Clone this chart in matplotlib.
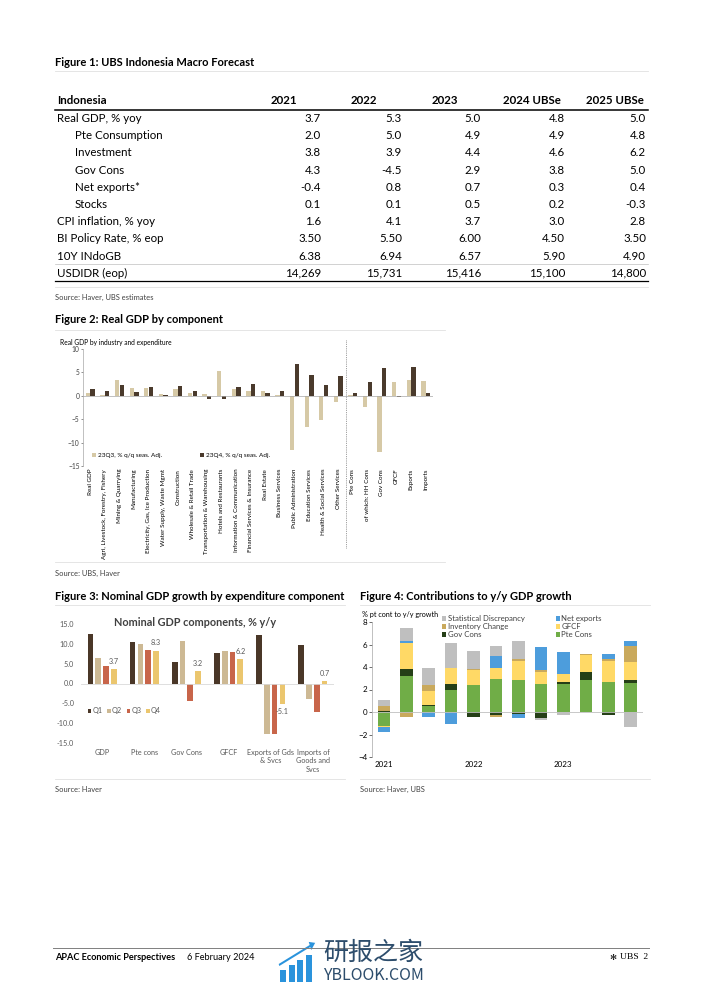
import numpy as np
import matplotlib.pyplot as plt
from matplotlib.lines import Line2D
from matplotlib.patches import Rectangle, FancyArrow

# ---- data ----
# Figure 1 table
tbl_rows = ['Real GDP, % yoy', 'Pte Consumption', 'Investment', 'Gov Cons', 'Net exports*',
            'Stocks', 'CPI inflation, % yoy', 'BI Policy Rate, % eop', '10Y INdoGB', 'USDIDR (eop)']
tbl_indent = [0, 1, 1, 1, 1, 1, 0, 0, 0, 0]
tbl_years = ['2021', '2022', '2023', '2024 UBSe', '2025 UBSe']
y2021 = ['3.7', '2.0', '3.8', '4.3', '-0.4', '0.1', '1.6', '3.50', '6.38', '14,269']
y2022 = ['5.3', '5.0', '3.9', '-4.5', '0.8', '0.1', '4.1', '5.50', '6.94', '15,731']
y2023 = ['5.0', '4.9', '4.4', '2.9', '0.7', '0.5', '3.7', '6.00', '6.57', '15,416']
y2024 = ['4.8', '4.9', '4.6', '3.8', '0.3', '0.2', '3.0', '4.50', '5.90', '15,100']
y2025 = ['5.0', '4.8', '6.2', '5.0', '0.4', '-0.3', '2.8', '3.50', '4.90', '14,800']

# Figure 2
sectors = ['Real GDP', 'Agri, Livestock, Forestry, Fishery', 'Mining & Quarrying', 'Manufacturing',
           'Electricity, Gas, Ice Production', 'Water Supply, Waste Mgmt', 'Construction',
           'Wholesale & Retail Trade', 'Transportation & Warehousing', 'Hotels and Restaurants',
           'Information & Communication', 'Financial Services & Insurance', 'Real Estate',
           'Business Services', 'Public Administration', 'Education Services',
           'Health & Social Services', 'Other Services', 'Pte Cons', 'of which: HH Cons',
           'Gov Cons', 'GFCF', 'Exports', 'Imports']
q3_23 = [0.7, 0.15, 3.4, 1.6, 1.6, 0.3, 1.4, 0.7, 0.3, 5.3, 1.4, 1.0,
         1.1, 0.1, -11.6, -6.6, -5.2, -1.3, 0.1, -2.4, -12.1, 3.0, 3.3, 3.1]
q4_23 = [1.4, 1.1, 2.4, 0.9, 1.9, 0.1, 2.1, 1.1, -0.6, -0.7, 1.9, 2.5,
         0.5, 1.0, 6.8, 4.4, 2.4, 4.3, 0.5, 2.9, 5.9, -0.2, 6.2, 0.6]

# Figure 3
comps = ['GDP', 'Pte cons', 'Gov Cons', 'GFCF', 'Exports of Gds\n& Svcs', 'Imports of\nGoods and\nSvcs']
nq1 = [12.4, 10.5, 5.4, 7.6, 12.2, 9.7]
nq2 = [6.5, 10.0, 10.8, 8.1, -12.8, -3.8]
nq3 = [4.3, 8.5, -4.3, 8.0, -12.8, -7.1]
nq4 = [3.7, 8.3, 3.2, 6.2, -5.1, 0.7]

# Figure 4 (2021Q1 - 2023Q4)
quarters = ['2021', '', '', '', '2022', '', '', '', '2023', '', '', '']
pte = [-1.2, 3.2, 0.55, 1.95, 2.4, 2.95, 2.85, 2.45, 2.5, 2.85, 2.65, 2.6]
gov = [0.1, 0.65, 0.1, 0.55, -0.4, -0.3, -0.2, -0.5, 0.15, 0.7, -0.3, 0.25]
gfcf = [-0.1, 2.3, 1.2, 1.45, 1.35, 0.95, 1.65, 1.1, 0.75, 1.5, 1.85, 1.6]
inv = [0.4, -0.4, 0.55, 0.0, 0.1, -0.1, 0.2, 0.15, 0.0, 0.15, 0.2, 1.4]
netex = [-0.45, 0.15, -0.45, -1.05, 0.0, 1.1, -0.35, 2.1, 1.9, 0.0, 0.5, 0.45]
stat = [0.55, 1.15, 1.5, 2.15, 1.6, 0.9, 1.6, -0.25, -0.25, 0.0, 0.0, -1.3]

# ---- page ----
W, H = 702, 992
plt.rcParams['font.family'] = ['Lato', 'DejaVu Sans']
fig = plt.figure(figsize=(7.02, 9.92), dpi=100)


def box(x0, y0, x1, y1):
    return fig.add_axes([x0 / W, 1 - y1 / H, (x1 - x0) / W, (y1 - y0) / H])


def txt(x, y, s, **kw):
    kw.setdefault('va', 'center')
    fig.text(x / W, 1 - y / H, s, **kw)


def hline(y, x0, x1, c='#e0e0e0', lw=0.6):
    fig.add_artist(Line2D([x0 / W, x1 / W], [1 - y / H, 1 - y / H], color=c, lw=lw))


# Figure 1 table
txt(55, 62, 'Figure 1: UBS Indonesia Macro Forecast', fontsize=8, fontweight='bold')
hline(71, 55, 648)
txt(57, 101, 'Indonesia', fontsize=8.3, fontweight='bold')
head_x = [297, 377, 458, 561, 644]
val_x = [321, 402, 481, 565, 646]
for hx, yr in zip(head_x, tbl_years):
    txt(hx, 101, yr, fontsize=8.3, fontweight='bold', ha='right')
hline(109.5, 55, 648, c='black', lw=1.1)
cols = [y2021, y2022, y2023, y2024, y2025]
for i, name in enumerate(tbl_rows):
    ry = 118.5 + i * 17.2
    txt(57 + 18 * tbl_indent[i], ry, name, fontsize=8.3)
    for vx, col in zip(val_x, cols):
        txt(vx, ry, col[i], fontsize=8.3, ha='right')
hline(264, 55, 648, c='#bfbfbf', lw=0.5)
hline(281, 55, 648, c='black', lw=0.9)
hline(287, 55, 648)
txt(55, 297, 'Source: Haver, UBS estimates', fontsize=5.4, color='#404040')

# Figure 2
txt(55, 320, 'Figure 2: Real GDP by component', fontsize=8, fontweight='bold')
hline(330, 55, 445)
txt(60, 342, 'Real GDP by industry and expenditure', fontsize=4.8)
ax2 = box(83, 349, 433, 466)
ix = np.arange(len(sectors))
ax2.bar(ix - 0.16, q3_23, 0.3, color='#d6c9a6', label='23Q3, % q/q seas. Adj.')
ax2.bar(ix + 0.16, q4_23, 0.3, color='#4a3a2c', label='23Q4, % q/q seas. Adj.')
ax2.axhline(0, color='#a6a6a6', lw=0.5)
ax2.axvline(17.5, ymin=-0.70, ymax=1.08, color='#7f7f7f', lw=0.6, ls=(0, (1, 1.2)), clip_on=False)
ax2.set_xlim(-0.5, len(sectors) - 0.5)
ax2.set_ylim(-15, 10)
ax2.set_yticks(np.arange(-15, 11, 5))
ax2.set_xticks(ix)
ax2.set_xticklabels(sectors, rotation=90, fontsize=4.5)
ax2.tick_params(axis='x', length=0, pad=2)
ax2.tick_params(axis='y', labelsize=4.8, length=1.5, width=0.4, colors='#404040', pad=1)
for s in ['top', 'right', 'bottom']:
    ax2.spines[s].set_visible(False)
ax2.spines['left'].set_color('#a6a6a6')
ax2.spines['left'].set_linewidth(0.5)
ax2.legend(ncol=2, loc='lower left', bbox_to_anchor=(0.01, 0.02), fontsize=4.6, frameon=False,
           handlelength=0.6, handleheight=0.6, handletextpad=0.3, columnspacing=6)
hline(562, 55, 445)
txt(55, 573, 'Source: UBS, Haver', fontsize=5.4, color='#404040')

# Figure 3
txt(55, 596, 'Figure 3: Nominal GDP growth by expenditure component', fontsize=8, fontweight='bold')
hline(605, 55, 345)
ax3 = box(81, 624, 334, 743)
gx = np.arange(len(comps))
step, bw = 0.185, 0.135
qcols = ['#4a3728', '#cdb994', '#c8654a', '#ebc66e']
for k, (vals, lab) in enumerate(zip([nq1, nq2, nq3, nq4], ['Q1', 'Q2', 'Q3', 'Q4'])):
    ax3.bar(gx + (k - 1.5) * step, vals, bw, color=qcols[k], label=lab)
for xi, v in zip(gx, nq4):
    ax3.annotate(f'{v:.1f}', (xi + 1.5 * step, v), xytext=(0, 3 if v >= 0 else -3),
                 textcoords='offset points', ha='center', va='bottom' if v >= 0 else 'top',
                 fontsize=5.2, color='#595959')
ax3.axhline(0, color='#d9d9d9', lw=0.6)
ax3.set_xlim(-0.5, len(comps) - 0.5)
ax3.set_ylim(-15, 15)
ax3.set_yticks(np.arange(-15, 16, 5))
ax3.set_yticklabels([f'{v:.1f}' for v in np.arange(-15, 16, 5)])
ax3.set_xticks(gx)
ax3.set_xticklabels(comps, fontsize=5.2, linespacing=1.3)
ax3.tick_params(axis='both', length=0, colors='#595959', labelsize=5.2)
ax3.tick_params(axis='x', pad=4)
ax3.tick_params(axis='y', pad=5)
for s in ax3.spines.values():
    s.set_visible(False)
ax3.legend(ncol=4, loc='center left', bbox_to_anchor=(0.0, 0.27), fontsize=5.2, frameon=False,
           handlelength=0.5, handleheight=0.5, handletextpad=0.2, columnspacing=0.6,
           labelcolor='#595959')
txt(195, 623, 'Nominal GDP components, % y/y', fontsize=7.8, fontweight='bold', color='#404040',
    ha='center')
hline(779, 55, 345)
txt(55, 789, 'Source: Haver', fontsize=5.4, color='#404040')

# Figure 4
txt(360, 596, 'Figure 4: Contributions to y/y GDP growth', fontsize=8, fontweight='bold')
hline(605, 360, 650)
txt(362, 614, '% pt cont to y/y growth', fontsize=5.2)
ax4 = box(372, 622, 643, 757)
bx = np.arange(len(pte))
series = [pte, gov, gfcf, inv, netex, stat]
names = ['Pte Cons', 'Gov Cons', 'GFCF', 'Inventory Change', 'Net exports', 'Statistical Discrepancy']
scols = ['#70ad47', '#253f17', '#ffd966', '#c9a95c', '#4d9ddc', '#bfbfbf']
pos_base = np.zeros(len(bx))
neg_base = np.zeros(len(bx))
handles = {}
for vals, nm, c in zip(series, names, scols):
    v = np.array(vals)
    base = np.where(v >= 0, pos_base, neg_base)
    handles[nm] = ax4.bar(bx, v, 0.56, bottom=base, color=c, label=nm)
    pos_base = pos_base + np.where(v > 0, v, 0)
    neg_base = neg_base + np.where(v < 0, v, 0)
ax4.axhline(0, color='#bfbfbf', lw=0.6)
ax4.set_xlim(-0.53, len(bx) - 0.45)
ax4.set_ylim(-4, 8)
ax4.set_yticks(np.arange(-4, 9, 2))
ax4.set_xticks(bx)
ax4.set_xticklabels(quarters)
ax4.tick_params(axis='x', length=0, labelsize=5.8, pad=3)
ax4.tick_params(axis='y', labelsize=5.8, length=2, width=0.4, pad=1.5)
for s in ['top', 'right', 'bottom']:
    ax4.spines[s].set_visible(False)
ax4.spines['left'].set_color('#a6a6a6')
ax4.spines['left'].set_linewidth(0.5)
order = ['Statistical Discrepancy', 'Inventory Change', 'Gov Cons', 'Net exports', 'GFCF', 'Pte Cons']
ax4.legend([handles[n] for n in order], order, ncol=2, loc='upper left',
           bbox_to_anchor=(0.26, 1.05), fontsize=5.6, frameon=False, borderaxespad=0, borderpad=0,
           handlelength=0.5, handleheight=0.5, handletextpad=0.2, columnspacing=4.0,
           labelspacing=0.12, labelcolor='#404040')
hline(779, 360, 650)
txt(360, 789, 'Source: Haver, UBS', fontsize=5.4, color='#404040')

# footer
hline(948, 53, 649, c='#7f7f7f', lw=0.7)
txt(55, 957, 'APAC Economic Perspectives', fontsize=6.6, fontweight='bold')
txt(187, 957, '6 February 2024', fontsize=6.6)
# watermark
for k, top in enumerate([970, 965, 960, 955]):
    fig.add_artist(Rectangle(((280 + 8.5 * k) / W, 1 - 982 / H), 6 / W, (982 - top) / H,
                             transform=fig.transFigure, color='#2a93dc', lw=0))
fig.add_artist(FancyArrow(279 / W, 1 - 965 / H, 31 / W, 19 / H, width=0.0022, head_width=0.009,
                          head_length=0.008, transform=fig.transFigure, color='#2a93dc', lw=0))
txt(323, 953, '研报之家', fontsize=18, color='#2d4d6c', family=['Noto Sans CJK SC', 'DejaVu Sans'])
txt(323, 975, 'YBLOOK.COM', fontsize=11.5, color='#2d4d6c', family=['Noto Sans CJK SC', 'DejaVu Sans'])
txt(613, 957, '\u273b', fontsize=6, ha='center', family=['DejaVu Sans'])
txt(648, 957, 'UBS  2', fontsize=6.8, ha='right', family=['Liberation Serif', 'DejaVu Serif'])

fig.savefig('out.png', dpi=100)
